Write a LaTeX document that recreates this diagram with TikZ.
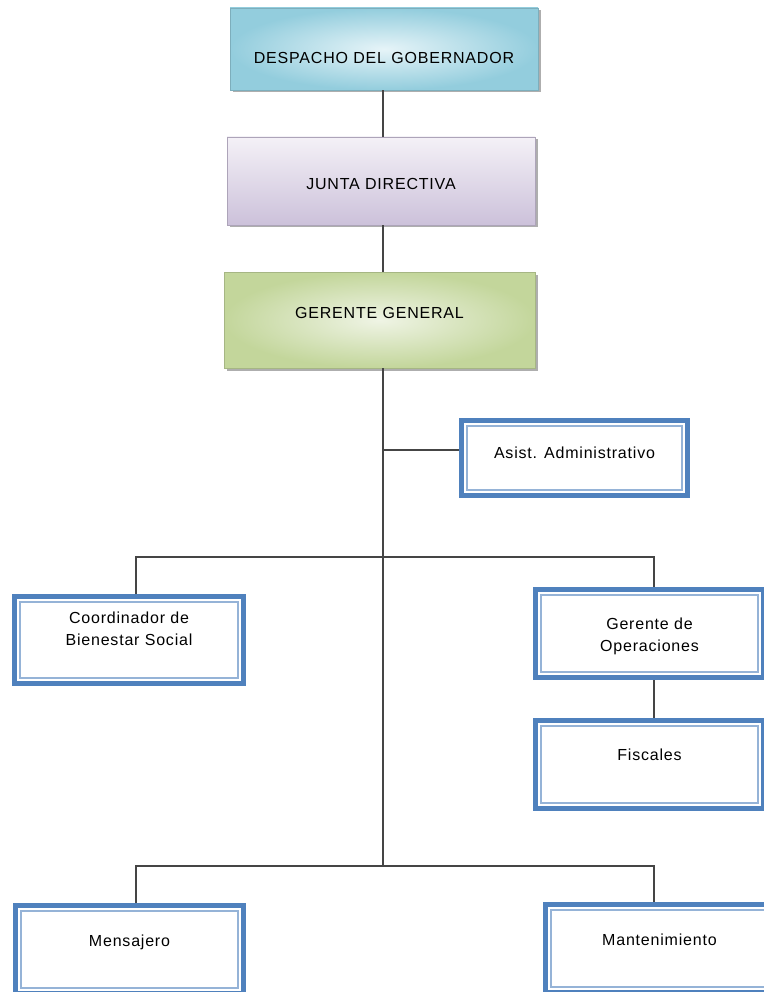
\documentclass[tikz,border=0pt]{standalone}
\usepackage{fontspec}
\setmainfont{Liberation Sans}[LetterSpace=5]
\usetikzlibrary{shadows}

\definecolor{boxblue}{HTML}{4F81BD}
\definecolor{boxblueinner}{HTML}{95B3D7}
\definecolor{linegray}{HTML}{454545}
\definecolor{cyandark}{HTML}{93CDDD}
\definecolor{cyanlight}{HTML}{E6F4F8}
\definecolor{lilacdark}{HTML}{CCC1DA}
\definecolor{lilaclight}{HTML}{F4F1F7}
\definecolor{greendark}{HTML}{C3D69B}
\definecolor{greenlight}{HTML}{EFF4E5}

\begin{document}
\begin{tikzpicture}[x=1pt,y=-1pt,
    every node/.style={font=\fontsize{16}{22}\selectfont, inner sep=0pt},
    topbox/.style={rectangle, draw=#1dark!85!black, line width=0.4pt,
      drop shadow={shadow xshift=2.5pt, shadow yshift=-2.5pt, fill=black!45, opacity=0.7}},
    unitbox/.style={rectangle, draw=boxblue, line width=5pt, fill=white,
      minimum width=228pt, minimum height=88pt,
      path picture={\draw[boxblueinner, line width=1.5pt]
        ([shift={(5.5pt,-5.5pt)}]path picture bounding box.north west) rectangle
        ([shift={(-5.5pt,5.5pt)}]path picture bounding box.south east);}},
    lift/.style={text height=12pt, text depth=#1},
    conn/.style={draw=linegray, line width=1.3pt}]
    \useasboundingbox (0,0) rectangle (763,992);

    % upper chain
    \node[topbox=cyan, inner color=cyanlight, outer color=cyandark,
      minimum width=308pt, minimum height=82pt, text height=29pt, text depth=0.5pt]
      (despacho) at (384,49) {DESPACHO DEL GOBERNADOR};
    \node[topbox=lilac, top color=lilaclight, bottom color=lilacdark,
      minimum width=308pt, minimum height=88pt, text height=16.5pt, text depth=0pt]
      (junta) at (381,181) {JUNTA DIRECTIVA};
    \node[topbox=green, inner color=greenlight, outer color=greendark,
      minimum width=311pt, minimum height=96pt, lift=14.5pt]
      (gerente) at (379.5,320) {GERENTE GENERAL};

    % units
    \node[unitbox, minimum width=226pt, minimum height=75pt, lift=10.5pt]
      (asist) at (574.5,458) {Asist. Administrativo};
    \node[unitbox, minimum width=229pt, minimum height=87pt, align=center, lift=0.5pt]
      (coordinador) at (129,640) {Coordinador de\\Bienestar Social};
    \node[unitbox, align=center, text height=36pt, text depth=0.5pt]
      (operaciones) at (649.5,633.5) {Gerente de\\Operaciones};
    \node[unitbox, lift=19.5pt] (fiscales) at (649.5,764.5) {Fiscales};
    \node[unitbox, lift=17.5pt] (mensajero) at (129.5,949.5) {Mensajero};
    \node[unitbox, lift=17.5pt] (mantenimiento) at (659.5,948.5) {Mantenimiento};

    % connectors
    \coordinate (asistjoin) at (383,450);
    \coordinate (midleft) at (136,557);
    \coordinate (midright) at (654,557);
    \coordinate (lowleft) at (136,866);
    \coordinate (lowright) at (654,866);

    \draw[conn] (despacho.south -| asistjoin) -- (junta.north -| asistjoin);
    \draw[conn] (junta.south -| asistjoin) -- (gerente.north -| asistjoin);
    \draw[conn] (gerente.south -| asistjoin) -- (lowleft -| asistjoin);
    \draw[conn] (asistjoin) -- (asistjoin -| asist.west);
    \draw[conn] (coordinador.north -| midleft) -- (midleft) -- (midright) -- (operaciones.north -| midright);
    \draw[conn] (operaciones.south -| midright) -- (fiscales.north -| midright);
    \draw[conn] (mensajero.north -| lowleft) -- (lowleft) -- (lowright) -- (mantenimiento.north -| lowright);
\end{tikzpicture}
\end{document}
